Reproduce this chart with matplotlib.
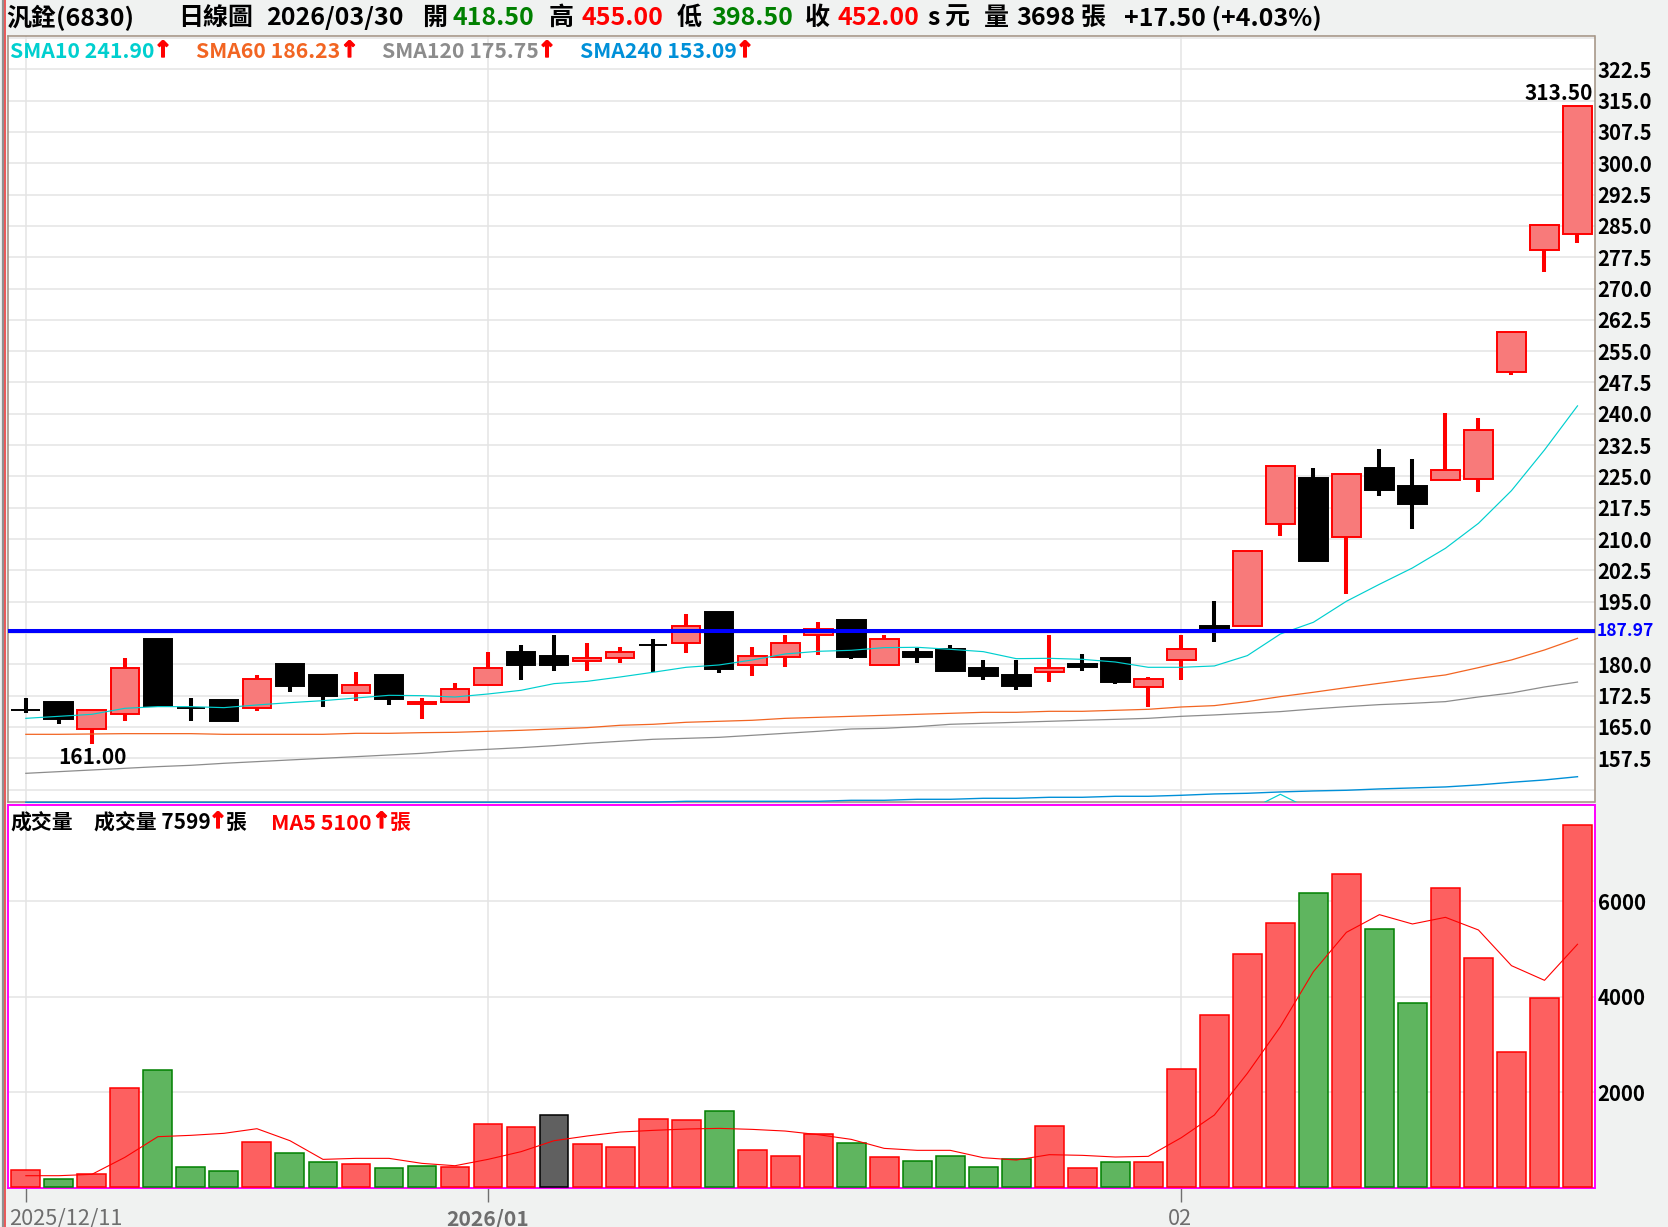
import matplotlib
matplotlib.use("Agg")
import matplotlib.pyplot as plt
import matplotlib.patheffects as pe
from matplotlib.lines import Line2D
import numpy as np

plt.rcParams['font.family'] = ['Noto Sans CJK TC', 'DejaVu Sans']

# candles
open_p = [169.0, 170.98, 164.44, 168.03, 186.07, 169.55, 171.46, 169.47, 180.08, 177.45, 173.06, 177.45,
          170.4, 170.9, 175.0, 182.96, 182.0, 180.9, 181.4, 184.55, 185.03, 192.54, 179.93, 181.84,
          186.95, 190.62, 179.93, 182.96, 183.68, 179.1, 177.45, 178.1, 180.08, 181.52, 174.5, 180.96,
          189.1, 189.11, 213.53, 224.63, 210.42, 227.03, 222.71, 224.07, 224.47, 249.93, 279.15, 282.98]
close_p = [169.0, 166.99, 169.0, 179.05, 170.03, 169.55, 166.5, 176.4, 174.9, 172.5, 175.0, 171.78,
           170.9, 174.0, 179.05, 179.9, 179.9, 181.5, 182.9, 184.55, 189.1, 178.97, 181.92, 185.03,
           188.5, 181.84, 186.0, 181.76, 178.5, 177.3, 174.9, 179.05, 179.45, 175.85, 176.4, 183.6,
           188.1, 207.07, 227.42, 204.83, 225.51, 221.84, 218.48, 226.47, 236.05, 259.5, 285.14, 313.63]
high_p = [171.94, 170.98, 169.0, 181.5, 186.07, 171.94, 171.46, 177.45, 180.08, 177.45, 178.17, 177.45,
          171.94, 175.5, 182.96, 184.6, 187.03, 185.1, 184.2, 186.07, 192.06, 192.54, 184.16, 187.03,
          190.14, 190.62, 187.03, 183.9, 184.6, 181.04, 181.04, 187.03, 182.48, 181.52, 176.97, 187.03,
          195.1, 207.07, 227.42, 227.03, 225.51, 231.57, 229.18, 240.2, 239.0, 259.5, 285.14, 313.63]
low_p = [168.4, 165.8, 161.0, 166.5, 170.03, 166.5, 166.5, 168.9, 173.46, 169.87, 171.3, 170.35,
         167.0, 170.9, 175.0, 176.33, 178.5, 178.5, 180.4, 178.1, 182.8, 178.0, 177.3, 179.45,
         182.3, 181.36, 179.93, 180.4, 178.5, 176.33, 173.94, 175.85, 178.5, 175.4, 169.87, 176.33,
         185.4, 189.11, 210.82, 204.83, 196.93, 220.4, 212.5, 224.07, 221.36, 249.38, 274.04, 280.99]

sma10 = [167.07, 167.55, 168.03, 169.47, 169.87, 169.87, 169.63, 170.27, 170.83, 171.3, 171.94, 172.58,
         172.5, 172.18, 172.9, 173.78, 175.38, 175.93, 176.97, 178.1, 179.29, 179.85, 181.04, 182.48,
         183.12, 183.36, 184.0, 184.08, 183.6, 183.04, 181.36, 181.44, 181.2, 180.56, 179.29, 179.29,
         179.61, 182.09, 187.27, 190.07, 195.1, 199.17, 203.08, 207.79, 213.77, 221.6, 231.34, 241.9]
sma60 = [163.24, 163.24, 163.32, 163.4, 163.4, 163.4, 163.24, 163.24, 163.24, 163.24, 163.48, 163.48,
         163.64, 163.72, 163.96, 164.2, 164.52, 164.84, 165.4, 165.64, 166.12, 166.36, 166.6, 167.07,
         167.31, 167.55, 167.79, 168.03, 168.27, 168.51, 168.51, 168.75, 168.75, 168.99, 169.23, 169.79,
         170.11, 171.07, 172.27, 173.31, 174.42, 175.46, 176.5, 177.46, 179.21, 181.05, 183.44, 186.23]
sma120 = [153.9, 154.3, 154.7, 155.1, 155.5, 155.82, 156.3, 156.7, 157.1, 157.5, 157.89, 158.29,
          158.69, 159.25, 159.65, 160.05, 160.53, 161.09, 161.57, 162.05, 162.28, 162.52, 163.0, 163.48,
          163.96, 164.52, 164.68, 165.08, 165.64, 165.88, 166.12, 166.36, 166.6, 166.83, 167.07, 167.55,
          167.88, 168.28, 168.68, 169.31, 169.87, 170.35, 170.67, 171.07, 172.19, 173.15, 174.58, 175.75]
sma240 = [146.97, 146.97, 146.97, 146.97, 146.97, 146.97, 146.97, 146.97, 146.97, 146.97, 146.97, 146.97,
          146.97, 146.97, 146.97, 146.97, 146.97, 146.97, 146.97, 146.97, 147.2, 147.2, 147.2, 147.2,
          147.2, 147.44, 147.44, 147.68, 147.68, 147.92, 147.92, 148.16, 148.16, 148.4, 148.4, 148.64,
          148.96, 149.12, 149.44, 149.68, 149.84, 150.16, 150.4, 150.64, 151.12, 151.75, 152.31, 153.09]
# small cyan peak poking out of the bottom of the price panel
bump_idx = [37, 38, 39]
bump_val = [144.9, 148.88, 144.9]

vol = [366, 177, 282, 2083, 2467, 429, 345, 952, 722, 533, 491, 408,
       450, 429, 1329, 1266, 1525, 910, 847, 1434, 1413, 1601, 785, 659,
       1120, 931, 638, 554, 659, 428, 596, 1287, 408, 533, 533, 2481,
       3612, 4889, 5538, 6167, 6565, 5413, 3863, 6272, 4805, 2837, 3968, 7599]
# r = up, g = down, k = unchanged
vol_kind = ["r", "g", "r", "r", "g", "g", "g", "r", "g", "g", "r", "g",
            "g", "r", "r", "r", "k", "r", "r", "r", "r", "g", "r", "r",
            "r", "g", "r", "g", "g", "g", "g", "r", "r", "g", "r", "r",
            "r", "r", "r", "g", "r", "g", "g", "r", "r", "r", "r", "r"]
ma5 = [254, 254, 282, 638, 1071, 1099, 1141, 1238, 987, 596, 617, 617,
       512, 463, 596, 757, 987, 1085, 1168, 1203, 1231, 1245, 1224, 1189,
       1113, 1015, 826, 785, 785, 631, 582, 694, 680, 645, 659, 1050,
       1524, 2397, 3374, 4526, 5350, 5720, 5525, 5664, 5399, 4652, 4345, 5100]

price_grid = [150.0 + 7.5 * i for i in range(25)]
price_ticks = [157.5, 165.0, 172.5, 180.0, 195.0, 202.5, 210.0, 217.5, 225.0, 232.5, 240.0, 247.5,
               255.0, 262.5, 270.0, 277.5, 285.0, 292.5, 300.0, 307.5, 315.0, 322.5]
vol_ticks = [2000, 4000, 6000]
month_idx = [0, 14, 35]
month_lab = ["2025/12/11", "2026/01", "02"]
support = 187.97

W, H = 1668, 1227
BG = "#f0f2f1"
GRID = "#e4e4e4"
UP_BODY = "#f87a7a"
VOL_UP = "#fd6060"
VOL_DN = "#5fb55f"
GREEN = "#008000"
CYAN = "#00cfcf"
ORANGE = "#f26522"
GRAY = "#8c8c8c"
BLUE = "#0090d8"
FW = "bold"


def px_axes(fig, left, top, right, bottom):
    return fig.add_axes([left / W, 1 - bottom / H, (right - left) / W, (bottom - top) / H])


def ptext(x, y, s, color="black", size=18, weight=FW, ha="left", family=None):
    kw = {}
    if family:
        kw["family"] = family
    return fig.text(x / W, 1 - y / H, s, color=color, fontsize=size, fontweight=weight,
                    ha=ha, va="center", **kw)


def arrow(x, y, size=16):
    t = ptext(x, y, "\u2191", color="red", size=size, ha="center", family="DejaVu Sans")
    t.set_path_effects([pe.withStroke(linewidth=1.0, foreground="red")])


fig = plt.figure(figsize=(W / 100, H / 100), dpi=100, facecolor=BG)
x = np.arange(48)

# price panel
ax = px_axes(fig, 8, 35.7, 1594.5, 802.3)
ax.set_xlim(-0.54, 47.515)
ax.set_ylim(146.96, 330.55)
ax.set_facecolor("white")
for g in price_grid:
    ax.axhline(g, color=GRID, lw=1.1, zorder=1)
for m in month_idx:
    ax.axvline(m, color=GRID, lw=1.1, zorder=1)

for i in range(48):
    up = close_p[i] > open_p[i]
    col = "red" if up else "black"
    ax.vlines(i, low_p[i], high_p[i], color=col, lw=2.9, capstyle="butt", zorder=3)
    ax.bar(i, close_p[i] - open_p[i], bottom=open_p[i], width=0.87,
           facecolor=UP_BODY if up else "black", edgecolor=col, lw=1.4, zorder=4)

ax.plot(x, sma10, color=CYAN, lw=0.85, zorder=5)
ax.plot(x, sma60, color=ORANGE, lw=0.9, zorder=5)
ax.plot(x, sma120, color=GRAY, lw=0.9, zorder=5)
ax.plot(x, sma240, color=BLUE, lw=1.0, zorder=5, clip_on=False)
ax.plot(bump_idx, bump_val, color=CYAN, lw=0.85, zorder=5)
ax.axhline(support, color="#0000ff", lw=2.9, zorder=6)

ax.set_xticks([])
ax.yaxis.tick_right()
ax.set_yticks(price_ticks)
ax.set_yticklabels(["%.1f" % t for t in price_ticks], fontsize=14.6, fontweight=FW)
ax.tick_params(axis="y", length=0, pad=2.2)
for s in ax.spines.values():
    s.set_color("#a09080")
    s.set_linewidth(1.1)

# volume panel
ax2 = px_axes(fig, 8, 805.3, 1594.5, 1188.3)
ax2.set_xlim(-0.54, 47.515)
ax2.set_ylim(-10, 8010)
ax2.set_facecolor("white")
for g in vol_ticks:
    ax2.axhline(g, color=GRID, lw=1.1, zorder=1)
for m in month_idx:
    ax2.axvline(m, color=GRID, lw=1.1, zorder=1)

fills = {"r": VOL_UP, "g": VOL_DN, "k": "#606060"}
edges = {"r": "red", "g": GREEN, "k": "black"}
for i in range(48):
    ax2.bar(i, vol[i] - 20, bottom=20, width=0.875, facecolor=fills[vol_kind[i]],
            edgecolor=edges[vol_kind[i]], lw=1.1, zorder=3)
ax2.plot(x, ma5, color="red", lw=0.8, zorder=5)

ax2.yaxis.tick_right()
ax2.set_yticks(vol_ticks)
ax2.set_yticklabels([str(t) for t in vol_ticks], fontsize=14.6, fontweight=FW)
ax2.tick_params(axis="y", length=0, pad=2.2)
ax2.set_xticks(month_idx)
ax2.set_xticklabels([])
ax2.tick_params(axis="x", length=10, width=1.0, color="#707070")
for s in ax2.spines.values():
    s.set_color("#ff00ff")
    s.set_linewidth(1.4)

# left edge stripes
fig.add_artist(Line2D([2.5 / W, 2.5 / W], [0, 1], color="#909090", lw=1.6))
fig.add_artist(Line2D([4.5 / W, 4.5 / W], [0, 1], color="#e83030", lw=1.1))

# header line
y0 = 18
ptext(6, y0, "汎銓(6830)")
ptext(178, y0, "日線圖")
ptext(266, y0, "2026/03/30")
ptext(422, y0, "開")
ptext(453, y0, "418.50", color=GREEN)
ptext(549, y0, "高")
ptext(581, y0, "455.00", color="red")
ptext(677, y0, "低")
ptext(711, y0, "398.50", color=GREEN)
ptext(805, y0, "收")
ptext(837, y0, "452.00", color="red")
ptext(927, y0, "s")
ptext(944, y0, "元")
ptext(984, y0, "量")
ptext(1016, y0, "3698")
ptext(1081, y0, "張")
ptext(1124, y0, "+17.50 (+4.03%)")

# moving average legend
y1 = 52
ptext(10, y1, "SMA10 241.90", color=CYAN, size=15.3)
arrow(163, y1 - 1)
ptext(196, y1, "SMA60 186.23", color=ORANGE, size=15.3)
arrow(349.5, y1 - 1)
ptext(382, y1, "SMA120 175.75", color=GRAY, size=15.3)
arrow(547, y1 - 1)
ptext(580, y1, "SMA240 153.09", color=BLUE, size=15.3)
arrow(745, y1 - 1)

# price callouts
ptext(92.6, 758, "161.00", size=15, ha="center")
ptext(1593, 94, "313.50", size=15, ha="right")
ptext(1597, 631, "187.97", color="#0000ff", size=12.6)

# volume legend
y2 = 823
ptext(10, y2, "成交量", size=15)
ptext(94, y2, "成交量 7599", size=15)
arrow(218, y2 - 1)
ptext(226, y2, "張", size=15)
ptext(271, y2, "MA5 5100", color="red", size=15.5)
arrow(381.5, y2 - 1)
ptext(390, y2, "張", color="red", size=15)

# date labels under the volume panel
ptext(9, 1219, month_lab[0], color="#6e6e6e", size=15.6, weight="normal")
ptext(488, 1219, month_lab[1], color="#6e6e6e", size=15.2, ha="center")
ptext(1180, 1219, month_lab[2], color="#6e6e6e", size=15.6, weight="normal", ha="center")

fig.savefig("out.png", dpi=100, facecolor=BG)
